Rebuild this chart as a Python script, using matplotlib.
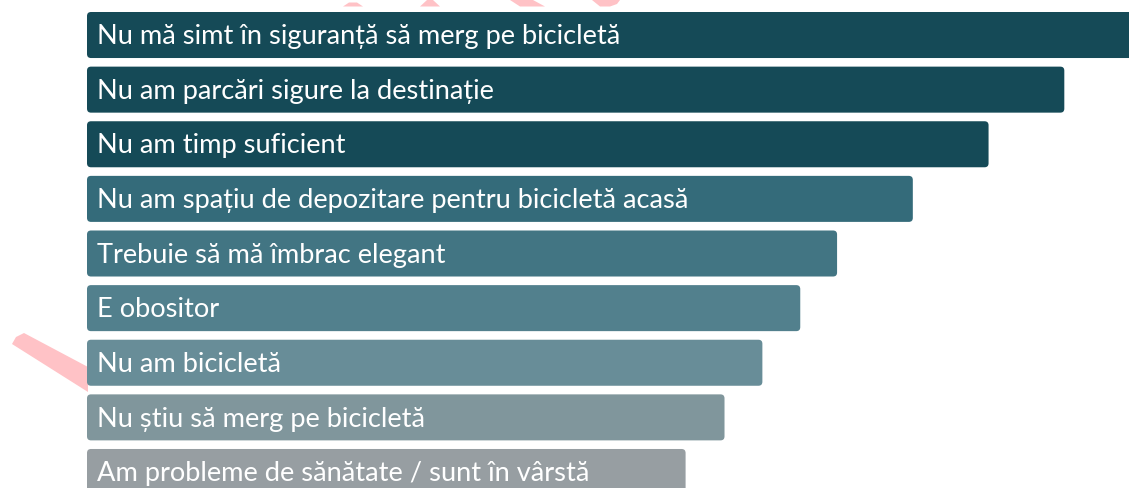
import matplotlib
matplotlib.use("Agg")
import matplotlib.pyplot as plt
from matplotlib.patches import FancyBboxPatch, Polygon

categories = [
    "Nu mă simt în siguranță să merg pe bicicletă",
    "Nu am parcări sigure la destinație",
    "Nu am timp suficient",
    "Nu am spațiu de depozitare pentru bicicletă acasă",
    "Trebuie să mă îmbrac elegant",
    "E obositor",
    "Nu am bicicletă",
    "Nu știu să merg pe bicicletă",
    "Am probleme de sănătate / sunt în vârstă",
]
values = [100.0, 92.9, 85.7, 78.5, 71.3, 67.8, 64.2, 60.6, 56.9]
colors = ["#154a57", "#154a57", "#154a57", "#346b7a", "#427583",
          "#52808d", "#688d98", "#80969c", "#979ea2"]

W, H = 1129, 488
fig = plt.figure(figsize=(W / 100, H / 100), dpi=100)
ax = fig.add_axes([0, 0, 1, 1])

px_per_unit_x = 10.52
pitch = 54.6
left_px = 87
ax.set_xlim(-left_px / px_per_unit_x, (W - left_px) / px_per_unit_x)
ax.set_ylim(len(categories) - 1 + (H - 472) / pitch, -35 / pitch)
ax.axis("off")

bar_h = 46 / pitch
bars = ax.barh(range(len(categories)), values, height=bar_h, color=colors)
aspect = px_per_unit_x / pitch
r = 4 / px_per_unit_x
for b, c, label in zip(bars, colors, categories):
    x0, y0 = b.get_x(), b.get_y()
    w, h = b.get_width(), b.get_height()
    b.set_visible(False)
    p = FancyBboxPatch((x0, y0), w, h,
                       boxstyle=f"round,pad=0,rounding_size={r}",
                       mutation_aspect=aspect, facecolor=c, edgecolor="none")
    ax.add_patch(p)
    ax.text(x0 + 10 / px_per_unit_x, y0 + h / 2 + 0.03, label, color="white",
            fontsize=19.6, family="Lato", va="center", ha="left")

# pink decorative fragments (figure pixel coordinates, y from top)
pink = "#ffc2c6"
def px_poly(pts):
    return Polygon([(x / W, 1 - y / H) for x, y in pts], closed=True,
                   transform=fig.transFigure, facecolor=pink, edgecolor="none",
                   zorder=0)
shapes = [
    [(12, 344), (16, 337), (24, 333), (88, 367), (88, 392)],
    [(343, 6.5), (349, 2.5), (357, 2.5), (363, 6.5)],
    [(420, 6.5), (427, 0), (433, 0), (440, 6.5)],
    [(510, 0), (533, 0), (545, 6.5), (520, 6.5)],
    [(592, 0), (620, 0), (617, 4), (610, 6.5), (600, 6.5)],
]
for s in shapes:
    fig.add_artist(px_poly(s))

fig.savefig("out.png", dpi=100)
